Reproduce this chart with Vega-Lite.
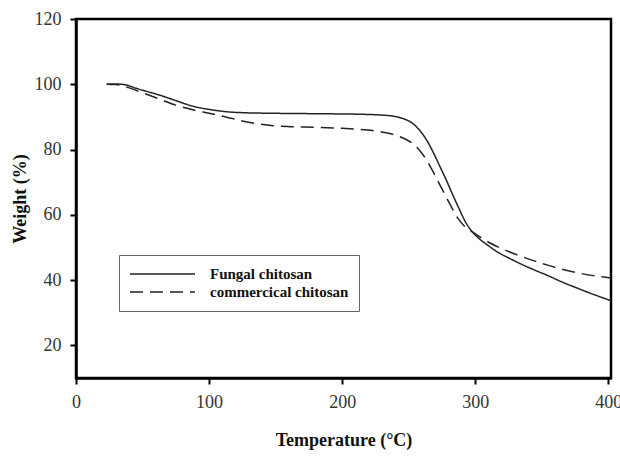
{
  "$schema": "https://vega.github.io/schema/vega-lite/v6.json",
  "width": 535,
  "height": 359,
  "autosize": "none",
  "padding": {"left": 76, "top": 19, "right": 9, "bottom": 79},
  "background": "white",
  "config": {
    "view": {"stroke": "black", "strokeWidth": 2.5},
    "font": "Liberation Serif"
  },
  "data": {
    "values": [
      {"s": "Fungal chitosan", "T": 23, "W": 100},
      {"s": "Fungal chitosan", "T": 30, "W": 100.1},
      {"s": "Fungal chitosan", "T": 37.6, "W": 99.8},
      {"s": "Fungal chitosan", "T": 45, "W": 98.8},
      {"s": "Fungal chitosan", "T": 55, "W": 97.6},
      {"s": "Fungal chitosan", "T": 62.6, "W": 96.7},
      {"s": "Fungal chitosan", "T": 75, "W": 95},
      {"s": "Fungal chitosan", "T": 87.6, "W": 93.3},
      {"s": "Fungal chitosan", "T": 100, "W": 92.3},
      {"s": "Fungal chitosan", "T": 112.7, "W": 91.6},
      {"s": "Fungal chitosan", "T": 125, "W": 91.3},
      {"s": "Fungal chitosan", "T": 150, "W": 91.1},
      {"s": "Fungal chitosan", "T": 175, "W": 91},
      {"s": "Fungal chitosan", "T": 200, "W": 90.9},
      {"s": "Fungal chitosan", "T": 215, "W": 90.8},
      {"s": "Fungal chitosan", "T": 228, "W": 90.6},
      {"s": "Fungal chitosan", "T": 240, "W": 90.1},
      {"s": "Fungal chitosan", "T": 247, "W": 89.3},
      {"s": "Fungal chitosan", "T": 253, "W": 88},
      {"s": "Fungal chitosan", "T": 258, "W": 86},
      {"s": "Fungal chitosan", "T": 263, "W": 83.2},
      {"s": "Fungal chitosan", "T": 268, "W": 79.5},
      {"s": "Fungal chitosan", "T": 273, "W": 75.2},
      {"s": "Fungal chitosan", "T": 278.5, "W": 70.4},
      {"s": "Fungal chitosan", "T": 284, "W": 65.3},
      {"s": "Fungal chitosan", "T": 288.5, "W": 61.3},
      {"s": "Fungal chitosan", "T": 292, "W": 58.3},
      {"s": "Fungal chitosan", "T": 296, "W": 55.7},
      {"s": "Fungal chitosan", "T": 300, "W": 53.8},
      {"s": "Fungal chitosan", "T": 310, "W": 50.5},
      {"s": "Fungal chitosan", "T": 318, "W": 48.3},
      {"s": "Fungal chitosan", "T": 326, "W": 46.6},
      {"s": "Fungal chitosan", "T": 335, "W": 44.8},
      {"s": "Fungal chitosan", "T": 345, "W": 43},
      {"s": "Fungal chitosan", "T": 355, "W": 41.3},
      {"s": "Fungal chitosan", "T": 363.6, "W": 39.7},
      {"s": "Fungal chitosan", "T": 375, "W": 37.8},
      {"s": "Fungal chitosan", "T": 385, "W": 36.2},
      {"s": "Fungal chitosan", "T": 395, "W": 34.7},
      {"s": "Fungal chitosan", "T": 402.5, "W": 33.6},
      {"s": "commercical chitosan", "T": 23, "W": 100},
      {"s": "commercical chitosan", "T": 30, "W": 99.9},
      {"s": "commercical chitosan", "T": 40, "W": 98.9},
      {"s": "commercical chitosan", "T": 50, "W": 97.4},
      {"s": "commercical chitosan", "T": 62.6, "W": 95.5},
      {"s": "commercical chitosan", "T": 75, "W": 93.6},
      {"s": "commercical chitosan", "T": 87.6, "W": 92.2},
      {"s": "commercical chitosan", "T": 100, "W": 91.1},
      {"s": "commercical chitosan", "T": 112.7, "W": 90},
      {"s": "commercical chitosan", "T": 123, "W": 88.9},
      {"s": "commercical chitosan", "T": 135, "W": 88},
      {"s": "commercical chitosan", "T": 148, "W": 87.3},
      {"s": "commercical chitosan", "T": 160.8, "W": 87},
      {"s": "commercical chitosan", "T": 180, "W": 86.8},
      {"s": "commercical chitosan", "T": 200, "W": 86.5},
      {"s": "commercical chitosan", "T": 212, "W": 86.2},
      {"s": "commercical chitosan", "T": 223, "W": 85.8},
      {"s": "commercical chitosan", "T": 232, "W": 85.2},
      {"s": "commercical chitosan", "T": 240, "W": 84.4},
      {"s": "commercical chitosan", "T": 247, "W": 83.3},
      {"s": "commercical chitosan", "T": 253, "W": 81.8},
      {"s": "commercical chitosan", "T": 259, "W": 79.3},
      {"s": "commercical chitosan", "T": 264, "W": 76.4},
      {"s": "commercical chitosan", "T": 269, "W": 72.7},
      {"s": "commercical chitosan", "T": 274, "W": 68.7},
      {"s": "commercical chitosan", "T": 278.5, "W": 65.2},
      {"s": "commercical chitosan", "T": 283, "W": 61.7},
      {"s": "commercical chitosan", "T": 287, "W": 58.9},
      {"s": "commercical chitosan", "T": 291, "W": 56.9},
      {"s": "commercical chitosan", "T": 295, "W": 55.6},
      {"s": "commercical chitosan", "T": 299, "W": 54.5},
      {"s": "commercical chitosan", "T": 304, "W": 53.1},
      {"s": "commercical chitosan", "T": 310, "W": 51.6},
      {"s": "commercical chitosan", "T": 318, "W": 50},
      {"s": "commercical chitosan", "T": 326, "W": 48.6},
      {"s": "commercical chitosan", "T": 335, "W": 47.2},
      {"s": "commercical chitosan", "T": 345, "W": 45.8},
      {"s": "commercical chitosan", "T": 355, "W": 44.5},
      {"s": "commercical chitosan", "T": 363.6, "W": 43.5},
      {"s": "commercical chitosan", "T": 375, "W": 42.4},
      {"s": "commercical chitosan", "T": 385, "W": 41.6},
      {"s": "commercical chitosan", "T": 395, "W": 41},
      {"s": "commercical chitosan", "T": 402.5, "W": 40.6}
    ]
  },
  "mark": {"type": "line", "color": "#222222", "strokeWidth": 1.5, "clip": true, "interpolate": "monotone"},
  "encoding": {
    "x": {
      "field": "T",
      "type": "quantitative",
      "scale": {"domain": [0, 402], "nice": false, "zero": false},
      "axis": {
        "title": "Temperature (°C)",
        "values": [0, 100, 200, 300, 400],
        "grid": false,
        "domainColor": "black",
        "domainWidth": 2.5,
        "tickColor": "black",
        "tickWidth": 2,
        "tickSize": 6,
        "labelFont": "Liberation Serif",
        "labelFontSize": 18,
        "labelColor": "#333333",
        "labelPadding": 9,
        "labelFlush": false,
        "titleFont": "Liberation Serif",
        "titleFontSize": 18,
        "titleFontWeight": "bold",
        "titleColor": "#111111",
        "titlePadding": 20
      }
    },
    "y": {
      "field": "W",
      "type": "quantitative",
      "scale": {"domain": [10, 120], "nice": false, "zero": false},
      "axis": {
        "title": "Weight (%)",
        "values": [20, 40, 60, 80, 100, 120],
        "grid": false,
        "domainColor": "black",
        "domainWidth": 2.5,
        "tickColor": "black",
        "tickWidth": 2,
        "tickSize": 6,
        "labelFont": "Liberation Serif",
        "labelFontSize": 18,
        "labelColor": "#333333",
        "labelPadding": 9,
        "labelFlush": false,
        "titleFont": "Liberation Serif",
        "titleFontSize": 18,
        "titleFontWeight": "bold",
        "titleColor": "#111111",
        "titlePadding": 5
      }
    },
    "strokeDash": {
      "field": "s",
      "type": "nominal",
      "scale": {
        "domain": ["Fungal chitosan", "commercical chitosan"],
        "range": [[1, 0], [13, 7]]
      },
      "legend": {
        "title": null,
        "orient": "none",
        "legendX": 43,
        "legendY": 236,
        "symbolType": "stroke",
        "symbolSize": 4225,
        "symbolStrokeColor": "#222222",
        "symbolStrokeWidth": 1.5,
        "clipHeight": 18,
        "labelOffset": 14,
        "labelFont": "Liberation Serif",
        "labelFontSize": 15,
        "labelFontWeight": "bold",
        "labelColor": "#111111",
        "labelLimit": 300,
        "rowPadding": 0,
        "padding": 10,
        "strokeColor": "#666666",
        "fillColor": "white"
      }
    }
  }
}
